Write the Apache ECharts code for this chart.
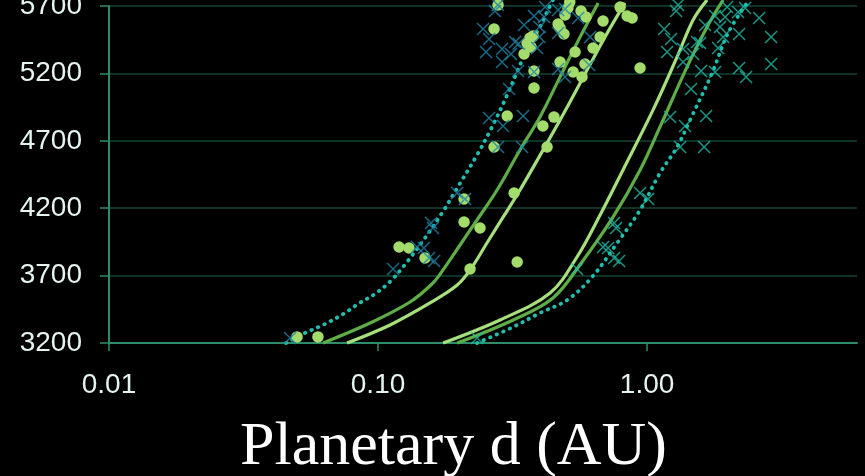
<!DOCTYPE html>
<html>
<head>
<meta charset="utf-8">
<script src="https://cdn.jsdelivr.net/npm/echarts@6/dist/echarts.min.js"></script>
<style>
html,body{margin:0;padding:0;background:#000;}
#c{width:865px;height:476px;}
</style>
</head>
<body>
<div id="c"></div>
<script>
// Tick labels
var xTicks = [0.01, 0.1, 1];
var xTickLabels = ['0.01', '0.10', '1.00'];
var yTicks = [3200, 3700, 4200, 4700, 5200, 5700];
var xTitle = 'Planetary d (AU)';

// Boundary curves [d (AU), Teff]
var innerDotted = [[0.0455,3200],[0.0535,3274],[0.0635,3341],[0.0754,3423],[0.0843,3490],[0.0984,3570],[0.1127,3670],[0.128,3800],[0.1495,3979],[0.173,4165],[0.198,4358],[0.2334,4595],[0.2654,4803],[0.302,5040],[0.331,5226],[0.367,5426],[0.400,5545],[0.428,5671],[0.447,5745]];
var innerMid = [[0.0625,3200],[0.0934,3348],[0.1315,3504],[0.160,3645],[0.1745,3742],[0.2018,3927],[0.2334,4113],[0.277,4335],[0.337,4632],[0.400,4877],[0.475,5174],[0.564,5471],[0.658,5723]];
var innerLight = [[0.0767,3200],[0.1109,3334],[0.156,3497],[0.197,3630],[0.220,3742],[0.254,3942],[0.292,4135],[0.337,4335],[0.425,4684],[0.505,4951],[0.604,5240],[0.698,5471],[0.828,5723]];
var outerLight = [[0.1745,3200],[0.284,3371],[0.436,3571],[0.549,3838],[0.669,4150],[0.814,4484],[1.053,4929],[1.293,5322],[1.483,5597],[1.671,5745]];
var outerMid = [[0.197,3200],[0.318,3371],[0.447,3534],[0.573,3801],[0.748,4135],[0.942,4484],[1.117,4803],[1.408,5248],[1.671,5545],[1.917,5745]];
var outerDotted = [[0.2334,3200],[0.318,3319],[0.400,3423],[0.505,3519],[0.625,3690],[0.774,3942],[0.942,4187],[1.117,4461],[1.293,4654],[1.445,4855],[1.745,5203],[2.0,5500],[2.354,5723]];

// Stars at inner edge (blue crosses)
var innerStars = [[0.279,5707],[0.272,5663],[0.2457,5529],[0.2586,5455],[0.252,5359],[0.289,5381],[0.312,5344],[0.289,5284],[0.323,5433],[0.333,5420],[0.349,5559],[0.380,5626],[0.414,5618],[0.418,5692],[0.398,5544],[0.398,5470],[0.390,5388],[0.467,5670],[0.4955,5678],[0.467,5500],[0.554,5611],[0.614,5470],[0.609,5262],[0.467,5233],[0.4955,5173],[0.380,5210],[0.3315,5218],[0.307,5084],[0.2586,4869],[0.346,4884],[0.2915,4810],[0.2793,4654],[0.343,4654],[0.1967,4313],[0.2105,4268],[0.1574,4090],[0.160,4053],[0.1396,3912],[0.148,3905],[0.1548,3831],[0.1616,3808],[0.1137,3749],[0.0471,3237]];
// Stars at outer edge (cyan crosses)
var outerStars = [[1.304,5707],[1.282,5663],[1.157,5529],[1.228,5455],[1.187,5359],[1.361,5381],[1.483,5344],[1.361,5284],[1.534,5433],[1.574,5425],[1.643,5559],[1.790,5626],[1.950,5618],[1.984,5692],[1.867,5544],[1.917,5470],[1.836,5388],[2.179,5655],[2.314,5685],[2.198,5492],[2.609,5611],[2.891,5470],[2.891,5270],[2.198,5240],[2.333,5173],[1.790,5210],[1.588,5218],[1.457,5084],[1.218,4876],[1.657,4884],[1.384,4810],[1.327,4654],[1.629,4654],[0.942,4313],[1.009,4268],[0.754,4090],[0.767,4053],[0.686,3912],[0.716,3905],[0.754,3831],[0.787,3808],[0.549,3749],[0.2334,3237]];
// Planets (green dots)
var planets = [[0.2793,5707],[0.270,5529],[0.367,5462],[0.377,5477],[0.358,5425],[0.3705,5396],[0.349,5344],[0.380,5218],[0.380,5092],[0.302,4884],[0.410,4810],[0.451,4876],[0.270,4654],[0.425,4654],[0.3205,4313],[0.467,5566],[0.475,5537],[0.491,5492],[0.475,5284],[0.540,5359],[0.531,5210],[0.573,5173],[0.588,5270],[0.568,5663],[0.593,5618],[0.508,5685],[0.4955,5633],[0.686,5589],[0.669,5470],[0.630,5388],[0.794,5692],[0.843,5626],[0.880,5611],[0.942,5240],[0.050,3245],[0.0598,3245],[0.1197,3912],[0.1303,3905],[0.1495,3831],[0.2088,4098],[0.2394,4053],[0.2198,3749],[0.2088,4268],[0.329,3801],[0.516,5729]];

var axisCol = '#2f8c6a';
var gridCol = '#0e3227';
var labelCol = '#e4f4ee';
var crossPath = 'path://M0,0L10,10M10,0L0,10';

function lineSeries(data, color, dotted) {
  return {
    type: 'line', data: data, smooth: 0.35, symbol: 'none', clip: false,
    lineStyle: dotted ? {color: color, width: 3.8, type: [0.5, 6.6], cap: 'round'}
                      : {color: color, width: 3.2},
    z: 2
  };
}

var chart = echarts.init(document.getElementById('c'), null, {renderer: 'canvas'});
chart.setOption({
  backgroundColor: '#000',
  animation: false,
  grid: {left: 109, right: 8, top: 6, bottom: 133, containLabel: false, outerBoundsMode: 'none'},
  xAxis: {
    type: 'log', logBase: 10, min: 0.01, max: 6.03,
    axisLine: {show: true, lineStyle: {color: axisCol, width: 2}},
    axisTick: {show: true, length: 8, customValues: xTicks, lineStyle: {color: axisCol, width: 1.5}},
    minorTick: {show: false},
    splitLine: {show: false},
    axisLabel: {
      customValues: xTicks, color: labelCol, fontSize: 28, fontFamily: 'Liberation Sans', margin: 28,
      formatter: function (v) { var i = xTicks.findIndex(function (t) { return Math.abs(t - v) / t < 1e-6; }); return i >= 0 ? xTickLabels[i] : ''; }
    }
  },
  yAxis: {
    type: 'value', min: yTicks[0], max: yTicks[yTicks.length - 1], interval: 500,
    axisLine: {show: true, lineStyle: {color: axisCol, width: 2}},
    axisTick: {show: true, length: 9, lineStyle: {color: axisCol, width: 1.5}},
    splitLine: {show: true, lineStyle: {color: gridCol, width: 2}},
    axisLabel: {color: labelCol, fontSize: 28, fontFamily: 'Liberation Sans', margin: 27,
      formatter: function (v) { return String(v); }}
  },
  graphic: [{
    type: 'text', left: 240, top: 417,
    style: {text: xTitle, fill: '#ffffff', font: '62px "Liberation Serif"'}
  }],
  series: [
    lineSeries(innerDotted, '#1fbfae', true),
    lineSeries(innerMid, '#5eae47', false),
    lineSeries(innerLight, '#a6e07c', false),
    lineSeries(outerLight, '#a6e07c', false),
    lineSeries(outerMid, '#5eae47', false),
    lineSeries(outerDotted, '#1fbfae', true),
    {type: 'scatter', data: planets, symbol: 'circle', symbolSize: 11.5, clip: false,
     itemStyle: {color: '#a4dc6c', opacity: 1}, z: 3},
    {type: 'scatter', data: innerStars, symbol: crossPath, symbolSize: 12, clip: false,
     itemStyle: {color: 'rgba(0,0,0,0)', borderColor: '#1f84a8', borderWidth: 1.5}, z: 4},
    {type: 'scatter', data: outerStars, symbol: crossPath, symbolSize: 12, clip: false,
     itemStyle: {color: 'rgba(0,0,0,0)', borderColor: '#21bca6', borderWidth: 1.5}, z: 4}
  ]
});
</script>
</body>
</html>
